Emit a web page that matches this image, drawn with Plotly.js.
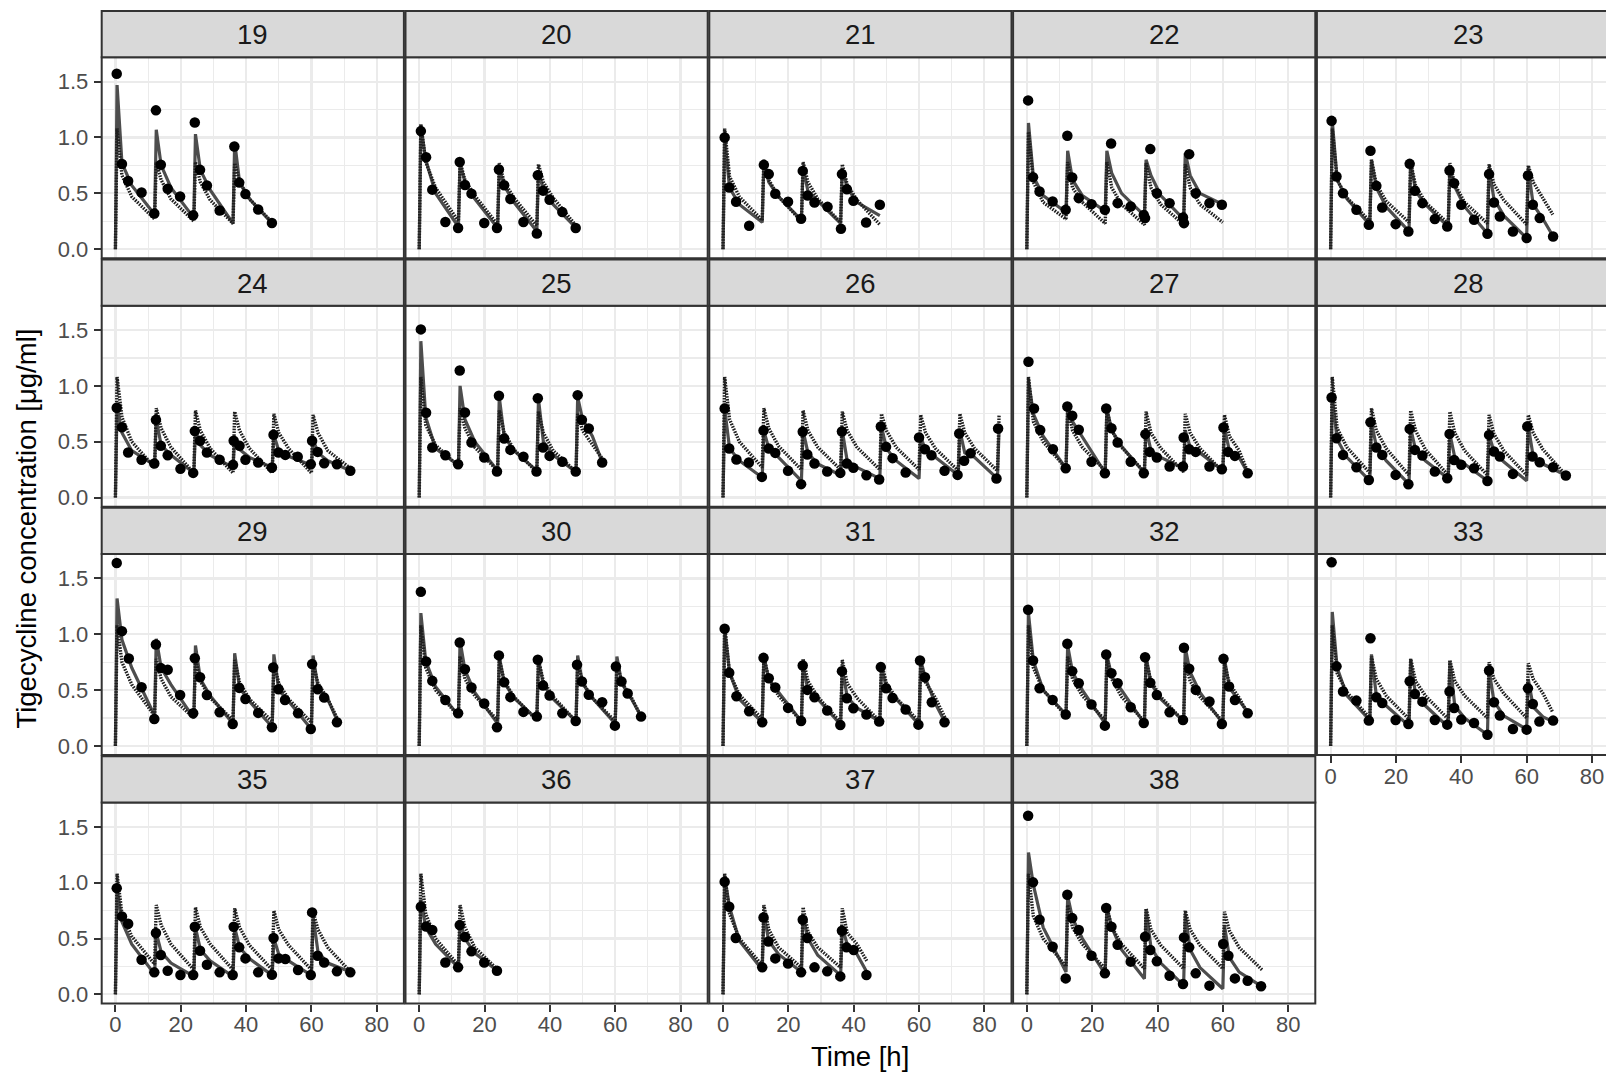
<!DOCTYPE html>
<html><head><meta charset="utf-8">
<script src="https://cdn.plot.ly/plotly-3.0.1.min.js"></script>
<style>html,body{margin:0;padding:0;background:#fff;overflow:hidden}</style>
</head><body><div id="chart" style="width:1606px;height:1073px"></div>
<script>
// ---------------- DATA ----------------
const panelIds = ['19','20','21','22','23','24','25','26','27','28','29','30','31','32','33','35','36','37','38'];
const xTitle = 'Time [h]';
const yTitle = 'Tigecycline concentration [μg/ml]';
const xTickVals = [0, 20, 40, 60, 80];
const yTickVals = [0, 0.5, 1.0, 1.5];
const doseInterval = 12;
const lineOffsets = [0.5, 2, 5, 12];   // hours after each dose for model curve values
const lineEnd = [48,48,48,60,68, 72,56,84.5,68,72, 68,68,68,68,68, 72,24,44,72];

const obsTime = [
 [0.4,2,3.9,8,11.9,12.4,13.9,16,19.8,23.8,24.3,25.9,28,31.9,36.4,37.9,39.8,43.7,47.9],
 [0.5,2.1,4,8,11.9,12.4,14,16,19.9,23.8,24.4,26,27.9,31.9,36,36.3,37.9,39.9,43.8,47.9],
 [0.5,1.9,4,8,12.5,14,16,19.9,23.9,24.4,25.9,28,32,36.1,36.4,37.9,39.9,43.8,48],
 [0.4,1.9,3.9,7.9,11.9,12.4,13.9,15.9,19.8,23.9,25.8,27.8,31.8,35.8,36.2,37.8,39.8,43.7,47.8,48.1,49.7,51.7,55.9,59.7],
 [0.3,1.8,3.8,7.9,11.7,12.2,14,15.8,19.9,23.8,24.2,25.8,28.1,31.9,35.7,36.4,37.8,40,43.9,48,48.5,50,51.8,55.8,60,60.4,61.9,64,68.1],
 [0.4,2,3.9,8,11.9,12.4,13.9,16,19.9,23.8,24.3,25.9,28,31.9,36,36.2,38,39.8,43.7,47.9,48.4,49.9,52,55.8,59.8,60.2,61.9,63.9,67.8,71.9],
 [0.5,2.1,4,8,11.9,12.4,14,16,19.9,23.8,24.4,26,27.9,31.9,35.9,36.3,37.9,39.9,43.8,47.9,48.5,49.8,51.9,56],
 [0.5,1.9,4.1,7.9,11.9,12.4,14,16,19.9,23.9,24.4,25.8,28,31.9,35.9,36.4,37.9,39.9,43.9,47.8,48.3,49.9,51.9,55.9,60,61.8,63.8,67.8,71.8,72.3,73.8,75.8,83.7,84.2],
 [0.5,2.2,4.1,8,11.9,12.4,13.9,15.9,19.8,23.9,24.3,25.9,27.8,31.8,35.8,36.3,37.6,39.8,43.7,47.8,48,49.7,51.7,55.9,59.7,60.2,61.6,63.7,67.6],
 [0.3,1.8,3.8,7.9,11.7,12.2,14,15.8,19.9,23.8,24.2,25.8,28.1,31.9,35.7,36.4,37.8,40,43.9,48,48.5,50,51.8,55.8,60.2,61.8,64,68.1,72],
 [0.4,2,4.1,8,11.9,12.4,13.9,16,19.8,23.8,24.3,25.9,28,31.9,35.9,37.9,39.8,43.7,47.9,48.3,49.9,51.9,55.9,59.8,60.2,61.9,63.9,67.8],
 [0.5,2.1,4,8,11.9,12.4,14,16,19.9,23.8,24.4,26,27.9,31.9,36,36.3,37.9,39.9,43.8,47.9,48.3,49.8,51.9,56,59.9,60.2,61.9,63.8,67.9],
 [0.5,1.9,4.1,8,12,12.4,14,16,19.9,23.9,24.4,25.8,28,31.9,35.9,36.4,37.9,39.9,43.9,47.8,48.3,49.9,51.9,55.9,59.8,60.3,61.8,63.9,67.8],
 [0.4,1.9,3.9,7.9,11.9,12.4,13.9,15.9,19.8,23.9,24.3,25.9,27.8,31.8,35.8,36.2,37.8,39.8,43.7,47.8,48.1,49.7,51.7,55.9,59.7,60.2,61.9,63.7,67.6],
 [0.3,1.8,3.8,7.9,11.7,12.2,14,15.8,19.9,23.8,24.2,25.8,28.1,31.9,35.7,36.4,37.8,40,43.9,48,48.5,50,51.8,55.8,60,60.4,61.9,63.9,68.1],
 [0.4,2,3.9,8,11.9,12.4,13.9,16,19.9,23.8,24.3,25.9,28,31.9,35.9,36.2,37.9,39.8,43.7,47.9,48.4,49.9,52,55.9,59.8,60.2,61.9,63.9,67.8,71.9],
 [0.5,2.1,4,8,11.9,12.4,14,16,19.9,23.8],
 [0.5,1.9,3.9,12,12.4,13.9,16,19.9,23.9,24.4,25.8,28,31.9,35.9,36.4,37.8,40,43.9],
 [0.4,1.9,3.9,7.9,11.9,12.4,13.9,15.9,19.8,23.9,24.3,25.9,27.8,31.8,36.2,37.8,39.8,43.7,47.8,48.1,49.7,51.7,55.9,60.1,61.7,63.7,67.6,71.7]
];

const obsConc = [
 [1.57,0.762,0.61,0.508,0.32,1.243,0.756,0.541,0.472,0.303,1.134,0.71,0.57,0.346,0.92,0.596,0.493,0.355,0.235],
 [1.057,0.823,0.533,0.243,0.189,0.781,0.575,0.497,0.234,0.189,0.713,0.572,0.449,0.243,0.141,0.662,0.524,0.443,0.332,0.189],
 [1.0,0.552,0.424,0.209,0.755,0.672,0.496,0.424,0.272,0.701,0.481,0.418,0.379,0.182,0.672,0.537,0.433,0.239,0.397],
 [1.332,0.645,0.516,0.427,0.352,1.015,0.642,0.457,0.403,0.352,0.946,0.412,0.382,0.307,0.278,0.896,0.501,0.412,0.284,0.233,0.851,0.501,0.412,0.397],
 [1.149,0.651,0.501,0.352,0.218,0.881,0.567,0.373,0.224,0.158,0.764,0.522,0.412,0.269,0.203,0.704,0.591,0.397,0.263,0.137,0.672,0.418,0.293,0.158,0.099,0.66,0.397,0.278,0.113],
 [0.804,0.63,0.403,0.338,0.305,0.696,0.463,0.379,0.257,0.221,0.595,0.508,0.403,0.338,0.293,0.508,0.463,0.338,0.314,0.269,0.562,0.403,0.382,0.365,0.299,0.508,0.409,0.308,0.299,0.239],
 [1.506,0.759,0.448,0.379,0.299,1.138,0.762,0.493,0.359,0.233,0.911,0.529,0.427,0.365,0.233,0.89,0.448,0.373,0.32,0.233,0.917,0.696,0.618,0.314],
 [0.798,0.439,0.341,0.314,0.185,0.601,0.439,0.4,0.239,0.12,0.589,0.385,0.305,0.233,0.221,0.592,0.305,0.266,0.2,0.161,0.636,0.454,0.353,0.224,0.538,0.433,0.379,0.239,0.203,0.574,0.329,0.397,0.17,0.618],
 [1.216,0.798,0.604,0.433,0.263,0.816,0.732,0.607,0.321,0.218,0.798,0.621,0.493,0.321,0.218,0.568,0.409,0.359,0.278,0.278,0.538,0.433,0.409,0.278,0.254,0.627,0.409,0.373,0.218],
 [0.896,0.531,0.382,0.272,0.158,0.675,0.448,0.382,0.203,0.119,0.615,0.427,0.376,0.233,0.173,0.57,0.337,0.293,0.263,0.149,0.561,0.412,0.367,0.212,0.636,0.367,0.316,0.272,0.197],
 [1.638,1.028,0.783,0.526,0.242,0.909,0.697,0.682,0.457,0.293,0.786,0.616,0.457,0.302,0.197,0.52,0.421,0.296,0.167,0.703,0.508,0.412,0.293,0.152,0.733,0.508,0.433,0.212],
 [1.38,0.756,0.583,0.412,0.293,0.926,0.687,0.523,0.38,0.167,0.811,0.571,0.437,0.305,0.263,0.772,0.541,0.452,0.293,0.224,0.727,0.577,0.458,0.392,0.182,0.712,0.577,0.47,0.263],
 [1.049,0.655,0.445,0.311,0.212,0.789,0.607,0.523,0.341,0.224,0.72,0.502,0.436,0.317,0.188,0.67,0.427,0.338,0.281,0.218,0.706,0.517,0.43,0.326,0.191,0.765,0.616,0.392,0.212],
 [1.219,0.765,0.517,0.412,0.281,0.915,0.67,0.562,0.371,0.182,0.819,0.652,0.562,0.347,0.206,0.795,0.565,0.457,0.302,0.233,0.879,0.691,0.502,0.398,0.197,0.78,0.532,0.412,0.293],
 [1.645,0.713,0.487,0.406,0.227,0.964,0.436,0.385,0.233,0.197,0.579,0.466,0.397,0.233,0.191,0.487,0.34,0.236,0.206,0.101,0.675,0.391,0.272,0.152,0.146,0.516,0.376,0.218,0.227],
 [0.951,0.698,0.632,0.31,0.197,0.549,0.352,0.212,0.173,0.173,0.605,0.391,0.265,0.197,0.173,0.605,0.421,0.322,0.197,0.176,0.504,0.322,0.316,0.218,0.173,0.734,0.346,0.286,0.206,0.197],
 [0.784,0.608,0.576,0.286,0.242,0.62,0.513,0.385,0.286,0.212],
 [1.008,0.784,0.504,0.242,0.689,0.474,0.322,0.277,0.197,0.668,0.504,0.242,0.206,0.161,0.57,0.421,0.397,0.173],
 [1.6,1.003,0.669,0.427,0.143,0.892,0.683,0.576,0.346,0.188,0.773,0.606,0.445,0.293,0.516,0.397,0.296,0.167,0.093,0.51,0.421,0.188,0.078,0.451,0.346,0.143,0.122,0.072]
];

// individual prediction (solid), per dose: values at lineOffsets after the dose
const ipredConc = [
 [[1.47,0.77,0.57,0.31],[1.07,0.75,0.55,0.28],[1.03,0.71,0.53,0.23],[0.96,0.6,0.45,0.23]],
 [[1.1,0.8,0.5,0.2],[0.77,0.6,0.45,0.19],[0.72,0.57,0.42,0.16],[0.7,0.53,0.4,0.19]],
 [[1.0,0.55,0.4,0.24],[0.78,0.6,0.47,0.26],[0.73,0.52,0.43,0.23],[0.72,0.55,0.42,0.3]],
 [[1.13,0.65,0.48,0.33],[0.88,0.62,0.48,0.34],[0.88,0.68,0.5,0.3],[0.8,0.66,0.48,0.27],[0.86,0.66,0.5,0.4]],
 [[1.15,0.62,0.45,0.22],[0.8,0.55,0.38,0.16],[0.78,0.52,0.4,0.2],[0.72,0.56,0.38,0.14],[0.72,0.45,0.3,0.1],[0.72,0.4,0.27,0.12]],
 [[0.82,0.58,0.42,0.29],[0.7,0.47,0.38,0.22],[0.6,0.47,0.38,0.27],[0.52,0.43,0.36,0.27],[0.56,0.42,0.37,0.29],[0.52,0.4,0.33,0.24]],
 [[1.4,0.72,0.44,0.29],[1.0,0.7,0.5,0.24],[0.9,0.55,0.42,0.24],[0.88,0.5,0.38,0.23],[0.9,0.7,0.55,0.32]],
 [[0.8,0.44,0.33,0.18],[0.6,0.44,0.36,0.15],[0.6,0.4,0.3,0.2],[0.6,0.33,0.27,0.17],[0.64,0.44,0.33,0.17],[0.55,0.42,0.36,0.2],[0.6,0.4,0.36,0.17],[0.62]],
 [[1.05,0.75,0.55,0.26],[0.82,0.68,0.54,0.22],[0.8,0.6,0.46,0.22],[0.62,0.42,0.36,0.26],[0.6,0.45,0.4,0.24],[0.62,0.42,0.36,0.2]],
 [[0.9,0.52,0.36,0.15],[0.67,0.46,0.33,0.12],[0.62,0.43,0.33,0.17],[0.57,0.36,0.3,0.15],[0.56,0.41,0.32,0.15],[0.64,0.37,0.3,0.2]],
 [[1.32,0.95,0.7,0.27],[0.96,0.7,0.55,0.25],[0.9,0.6,0.45,0.2],[0.83,0.52,0.4,0.17],[0.82,0.5,0.4,0.15],[0.81,0.52,0.42,0.22]],
 [[1.19,0.76,0.53,0.27],[0.94,0.68,0.48,0.2],[0.8,0.57,0.43,0.24],[0.77,0.55,0.42,0.22],[0.81,0.56,0.43,0.2],[0.8,0.56,0.42,0.26]],
 [[1.05,0.66,0.42,0.21],[0.8,0.6,0.48,0.22],[0.72,0.5,0.42,0.19],[0.7,0.44,0.34,0.22],[0.71,0.52,0.42,0.19],[0.77,0.6,0.38,0.21]],
 [[1.19,0.76,0.5,0.28],[0.9,0.66,0.5,0.2],[0.82,0.62,0.5,0.2],[0.8,0.56,0.42,0.22],[0.88,0.66,0.48,0.2],[0.78,0.52,0.4,0.29]],
 [[1.2,0.7,0.45,0.23],[0.82,0.45,0.36,0.18],[0.77,0.46,0.36,0.17],[0.76,0.36,0.25,0.1],[0.68,0.4,0.27,0.15],[0.6,0.35,0.26,0.22]],
 [[0.95,0.65,0.45,0.18],[0.55,0.38,0.28,0.16],[0.6,0.4,0.3,0.16],[0.6,0.42,0.32,0.17],[0.5,0.36,0.3,0.17],[0.7,0.38,0.28,0.2]],
 [[0.85,0.6,0.45,0.24],[0.65,0.5,0.37,0.21]],
 [[1.05,0.78,0.48,0.22],[0.72,0.48,0.36,0.2],[0.7,0.5,0.35,0.17],[0.6,0.45,0.36,0.2]],
 [[1.27,0.98,0.6,0.2],[0.88,0.68,0.5,0.18],[0.78,0.6,0.4,0.14],[0.76,0.42,0.28,0.08],[0.72,0.4,0.24,0.05],[0.62,0.33,0.2,0.07]]
];

// population prediction (dotted), per dose
const predConc = [
 [[1.08,0.66,0.47,0.27],[0.78,0.62,0.45,0.25],[0.78,0.6,0.44,0.23],[0.77,0.6,0.45,0.24]],
 [[1.12,0.78,0.55,0.25],[0.78,0.62,0.48,0.22],[0.77,0.6,0.46,0.21],[0.76,0.6,0.46,0.21]],
 [[1.08,0.65,0.47,0.26],[0.8,0.62,0.47,0.25],[0.78,0.6,0.45,0.24],[0.76,0.58,0.44,0.22]],
 [[1.05,0.6,0.42,0.27],[0.78,0.55,0.42,0.23],[0.78,0.55,0.4,0.22],[0.77,0.55,0.4,0.22],[0.76,0.55,0.4,0.24]],
 [[1.08,0.62,0.46,0.25],[0.8,0.58,0.43,0.24],[0.78,0.57,0.42,0.23],[0.77,0.58,0.42,0.23],[0.76,0.58,0.44,0.22],[0.75,0.6,0.45,0.31]],
 [[1.08,0.72,0.5,0.27],[0.8,0.62,0.45,0.22],[0.78,0.6,0.44,0.22],[0.77,0.6,0.44,0.22],[0.75,0.58,0.44,0.22],[0.74,0.58,0.42,0.26]],
 [[1.08,0.65,0.47,0.28],[0.8,0.62,0.45,0.24],[0.78,0.58,0.43,0.23],[0.77,0.58,0.42,0.23],[0.75,0.6,0.48,0.35]],
 [[1.08,0.7,0.5,0.27],[0.8,0.62,0.46,0.25],[0.78,0.6,0.45,0.25],[0.77,0.6,0.45,0.25],[0.75,0.6,0.45,0.25],[0.74,0.58,0.44,0.24],[0.75,0.58,0.44,0.24],[0.74]],
 [[1.08,0.68,0.5,0.26],[0.8,0.6,0.45,0.24],[0.78,0.6,0.45,0.23],[0.77,0.58,0.44,0.23],[0.75,0.58,0.44,0.23],[0.74,0.55,0.42,0.2]],
 [[1.08,0.62,0.45,0.22],[0.8,0.6,0.44,0.2],[0.78,0.6,0.43,0.2],[0.77,0.58,0.42,0.2],[0.74,0.57,0.42,0.2],[0.74,0.58,0.43,0.2]],
 [[1.08,0.75,0.55,0.27],[0.78,0.6,0.44,0.25],[0.78,0.58,0.43,0.23],[0.77,0.57,0.42,0.22],[0.75,0.56,0.42,0.21],[0.74,0.56,0.42,0.24]],
 [[1.08,0.7,0.5,0.27],[0.8,0.6,0.45,0.23],[0.78,0.58,0.44,0.23],[0.77,0.58,0.44,0.22],[0.75,0.57,0.43,0.22],[0.74,0.57,0.43,0.26]],
 [[1.08,0.65,0.46,0.24],[0.8,0.6,0.45,0.22],[0.78,0.58,0.44,0.21],[0.77,0.56,0.43,0.22],[0.75,0.56,0.43,0.22],[0.74,0.57,0.43,0.25]],
 [[1.08,0.7,0.5,0.27],[0.8,0.6,0.45,0.23],[0.78,0.6,0.44,0.22],[0.77,0.58,0.44,0.22],[0.75,0.58,0.44,0.22],[0.74,0.56,0.43,0.27]],
 [[1.08,0.65,0.48,0.25],[0.8,0.6,0.45,0.24],[0.78,0.58,0.45,0.24],[0.77,0.58,0.45,0.25],[0.75,0.6,0.47,0.25],[0.74,0.6,0.47,0.3]],
 [[1.08,0.72,0.52,0.27],[0.8,0.62,0.45,0.22],[0.78,0.6,0.45,0.22],[0.77,0.6,0.44,0.22],[0.75,0.58,0.44,0.22],[0.74,0.58,0.42,0.2]],
 [[1.08,0.72,0.5,0.26],[0.8,0.6,0.42,0.22]],
 [[1.08,0.72,0.5,0.26],[0.8,0.58,0.42,0.24],[0.78,0.56,0.42,0.24],[0.77,0.55,0.45,0.3]],
 [[1.08,0.7,0.5,0.25],[0.8,0.6,0.45,0.23],[0.78,0.6,0.45,0.23],[0.77,0.58,0.44,0.23],[0.75,0.58,0.44,0.23],[0.74,0.57,0.42,0.22]]
];

// ---------------- LAYOUT GEOMETRY ----------------
const W = 1606, H = 1073;
const FONT = 'Liberation Sans, Arial, Helvetica, sans-serif';
const colLeft = [101.7, 405.5, 709.3, 1013.1, 1316.9];
const panelW = 302.2;
const rowTop = [57.3, 305.7, 554.1, 802.5];
const panelH = 201;
const stripH = 46.3;
const xRange0 = [-4.2, 88.3];
const yRange = [-0.0818, 1.718];
const pxPerHour = panelW / (xRange0[1] - xRange0[0]);

function buildLine(segs, end) {
  const t = [0], c = [0];
  segs.forEach((seg, k) => {
    const d = k * doseInterval;
    seg.forEach((v, j) => {
      let tt = d + lineOffsets[j];
      if (tt > end) tt = end;
      t.push(tt); c.push(v);
    });
  });
  return {t, c};
}

const traces = [];
const layout = {
  width: W, height: H, margin: {l:0, r:0, t:0, b:0},
  paper_bgcolor: '#ffffff', plot_bgcolor: '#ffffff',
  showlegend: false, shapes: [], annotations: [],
  font: {family: FONT}
};

panelIds.forEach((id, i) => {
  const row = Math.floor(i / 5), col = i % 5;
  const k = i + 1;
  const xs = k === 1 ? '' : String(k);
  const left = colLeft[col];
  const right = Math.min(left + panelW, W);
  const top = rowTop[row], bottom = top + panelH;
  const xr = [xRange0[0], xRange0[0] + (right - left) / pxPerHour];
  const showX = (row === 3) || (row === 2 && col === 4);
  const showY = col === 0;

  layout['xaxis' + xs] = {
    domain: [left / W, right / W], range: xr, anchor: 'y' + xs,
    tickmode: 'array', tickvals: xTickVals, ticktext: xTickVals.map(String),
    showgrid: true, gridcolor: '#ebebeb', gridwidth: 2.2,
    minor: {dtick: 10, tick0: 0, showgrid: true, gridcolor: '#ebebeb', gridwidth: 1.1},
    zeroline: false, showline: false,
    ticks: showX ? 'outside' : '', ticklen: 7, tickwidth: 2, tickcolor: '#333333',
    showticklabels: showX, tickfont: {size: 22, color: '#4d4d4d', family: FONT},
    ticklabelstandoff: -6,
    fixedrange: true
  };
  layout['yaxis' + xs] = {
    domain: [1 - bottom / H, 1 - top / H], range: yRange, anchor: 'x' + xs,
    tickmode: 'array', tickvals: yTickVals, ticktext: yTickVals.map(v => v.toFixed(1)),
    showgrid: true, gridcolor: '#ebebeb', gridwidth: 2.2,
    minor: {dtick: 0.25, tick0: 0, showgrid: true, gridcolor: '#ebebeb', gridwidth: 1.1},
    zeroline: false, showline: false,
    ticks: showY ? 'outside' : '', ticklen: 7, tickwidth: 2, tickcolor: '#333333',
    showticklabels: showY, tickfont: {size: 22, color: '#4d4d4d', family: FONT},
    ticklabelstandoff: 1,
    fixedrange: true
  };

  // panel border
  layout.shapes.push({type: 'rect', xref: 'paper', yref: 'paper',
    x0: left / W, x1: (left + panelW) / W, y0: 1 - bottom / H, y1: 1 - top / H,
    line: {color: '#333333', width: 2}, fillcolor: 'rgba(0,0,0,0)', layer: 'above'});
  // strip
  layout.shapes.push({type: 'rect', xref: 'paper', yref: 'paper',
    x0: left / W, x1: (left + panelW) / W, y0: 1 - top / H, y1: 1 - (top - stripH) / H,
    line: {color: '#333333', width: 2}, fillcolor: '#d9d9d9', layer: 'above'});
  layout.annotations.push({xref: 'paper', yref: 'paper',
    x: (left + panelW / 2) / W, y: 1 - (top - stripH / 2 + 0.5) / H,
    xanchor: 'center', yanchor: 'middle', showarrow: false, text: id,
    font: {size: 27.5, color: '#1a1a1a', family: FONT}});

  const ip = buildLine(ipredConc[i], lineEnd[i]);
  const pp = buildLine(predConc[i], lineEnd[i]);
  traces.push({type: 'scatter', mode: 'lines', x: ip.t, y: ip.c, xaxis: 'x' + xs, yaxis: 'y' + xs,
    line: {color: '#4d4d4d', width: 3.2}, hoverinfo: 'skip'});
  traces.push({type: 'scatter', mode: 'lines', x: pp.t, y: pp.c, xaxis: 'x' + xs, yaxis: 'y' + xs,
    line: {color: '#1f1f1f', width: 3.4, dash: '1.6px,1.2px'}, hoverinfo: 'skip'});
  traces.push({type: 'scatter', mode: 'markers', x: obsTime[i], y: obsConc[i], xaxis: 'x' + xs, yaxis: 'y' + xs,
    marker: {color: '#000000', size: 10.5, line: {width: 0}}});
});

// axis titles
layout.annotations.push({xref: 'paper', yref: 'paper', x: 860.4 / W, y: 1 - 1056 / H,
  xanchor: 'center', yanchor: 'middle', showarrow: false, text: xTitle,
  font: {size: 27.5, color: '#000000', family: FONT}});
layout.annotations.push({xref: 'paper', yref: 'paper', x: 25.6 / W, y: 1 - 529 / H,
  xanchor: 'center', yanchor: 'middle', showarrow: false, text: yTitle, textangle: -90,
  font: {size: 27.5, color: '#000000', family: FONT}});

Plotly.newPlot('chart', traces, layout, {staticPlot: true, displayModeBar: false});
</script></body></html>
